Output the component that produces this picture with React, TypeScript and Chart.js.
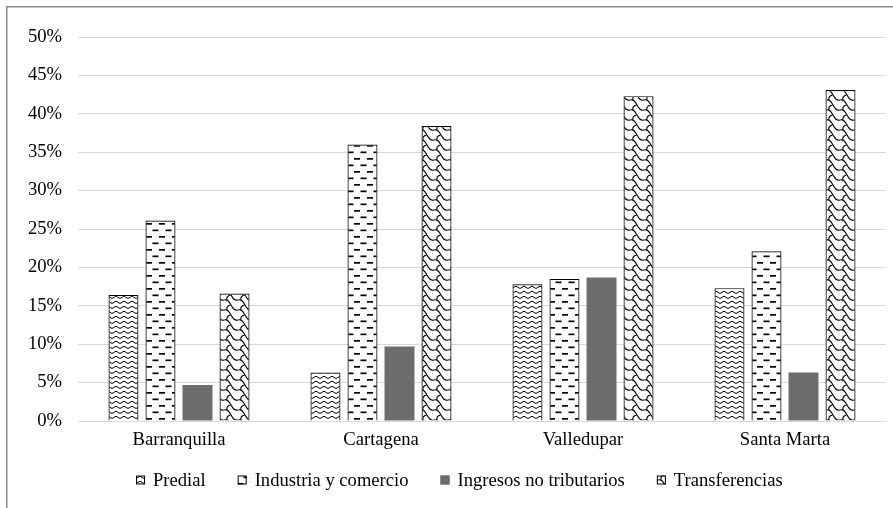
import React, { useEffect, useRef } from "react";
import { Chart, registerables } from "chart.js";

Chart.register(...registerables);

// Municipal revenue composition by city (share of total, %)
const categories = ["Barranquilla", "Cartagena", "Valledupar", "Santa Marta"];
const seriesNames = ["Predial", "Industria y comercio", "Ingresos no tributarios", "Transferencias"];
const predial = [16.4, 6.3, 17.8, 17.3];
const industriaComercio = [26.1, 36.0, 18.5, 22.1];
const ingresosNoTributarios = [4.7, 9.7, 18.7, 6.3];
const transferencias = [16.6, 38.4, 42.3, 43.1];
const yTickValues = [0, 5, 10, 15, 20, 25, 30, 35, 40, 45, 50];

const FONT = '"Liberation Serif", "Times New Roman", serif';
const FONT_SIZE = 18.6;
const W = 893;
const H = 508;

function makePattern(w: number, h: number, draw: (c: CanvasRenderingContext2D) => void) {
  const cv = document.createElement("canvas");
  cv.width = w;
  cv.height = h;
  const c = cv.getContext("2d")!;
  c.fillStyle = "#ffffff";
  c.fillRect(0, 0, w, h);
  c.strokeStyle = "#000000";
  c.fillStyle = "#000000";
  draw(c);
  return c.createPattern(cv, "repeat")!;
}

// zigzag rows
function zigzag() {
  return makePattern(8, 5, (c) => {
    c.lineWidth = 1;
    c.beginPath();
    c.moveTo(-0.5, 3.8);
    c.lineTo(4, 1.2);
    c.lineTo(8.5, 3.8);
    c.stroke();
  });
}

// staggered horizontal dashes
function dashes() {
  return makePattern(13, 13, (c) => {
    c.fillRect(3, 2, 6, 1.7);
    c.fillRect(9.5, 8.5, 3.5, 1.7);
    c.fillRect(0, 8.5, 2.5, 1.7);
  });
}

// shingle: S-curved diagonal chains with hooks
function shingle() {
  return makePattern(14, 10, (c) => {
    c.lineWidth = 1.1;
    const s = (dx: number, dy: number) => {
      c.beginPath();
      c.moveTo(dx, dy);
      c.bezierCurveTo(dx + 7, dy - 2.5, dx + 7, dy + 12.5, dx + 14, dy + 10);
      c.stroke();
      c.beginPath();
      c.moveTo(dx + 6.5, dy + 5);
      c.quadraticCurveTo(dx + 2, dy + 6, dx + 3, dy + 10.5);
      c.stroke();
    };
    for (const dx of [-14, 0, 14]) for (const dy of [-10, 0, 10]) s(dx, dy);
  });
}

export default function App() {
  const ref = useRef<HTMLCanvasElement | null>(null);

  useEffect(() => {
    if (!ref.current) return;
    const fills = [zigzag(), dashes(), "#6d6d6d", shingle()];
    const values = [predial, industriaComercio, ingresosNoTributarios, transferencias];

    const frameAndLegend = {
      id: "frameAndLegend",
      beforeDraw(chart: any) {
        const ctx = chart.ctx;
        ctx.save();
        ctx.fillStyle = "#ffffff";
        ctx.fillRect(0, 0, W, H);
        ctx.strokeStyle = "#8a8a8a";
        ctx.lineWidth = 1.5;
        ctx.beginPath();
        ctx.moveTo(6.75, H);
        ctx.lineTo(6.75, 6.75);
        ctx.lineTo(W, 6.75);
        ctx.stroke();
        ctx.restore();
      },
      afterDraw(chart: any) {
        const ctx = chart.ctx;
        ctx.save();
        ctx.font = `${FONT_SIZE}px ${FONT}`;
        ctx.textBaseline = "middle";
        const box = 9;
        const gapText = 8;
        const spacing = 32;
        const y = 480;
        let x = 136;
        chart.data.datasets.forEach((ds: any) => {
          ctx.fillStyle = ds.backgroundColor;
          ctx.fillRect(x, y - box / 2, box, box);
          ctx.strokeStyle = ds.borderWidth ? "#000000" : ds.backgroundColor;
          ctx.lineWidth = 1;
          ctx.strokeRect(x + 0.5, y - box / 2 + 0.5, box - 1, box - 1);
          ctx.fillStyle = "#000000";
          ctx.fillText(ds.label, x + box + gapText, y + 1);
          x += box + gapText + ctx.measureText(ds.label).width + spacing;
        });
        ctx.restore();
      },
    };

    const chart = new Chart(ref.current, {
      type: "bar",
      data: {
        labels: categories,
        datasets: seriesNames.map((name, i) => ({
          label: name,
          data: values[i],
          backgroundColor: fills[i] as any,
          borderColor: i === 2 ? "#6d6d6d" : "#000000",
          borderWidth: i === 2 ? 0 : 1.2,
          categoryPercentage: 0.733,
          barPercentage: 0.81,
        })),
      },
      options: {
        animation: false,
        responsive: false,
        devicePixelRatio: 1,
        layout: { padding: { top: 37, right: 7, left: 0, bottom: 0 } },
        plugins: { legend: { display: false }, tooltip: { enabled: false } },
        scales: {
          x: {
            grid: { display: false, drawTicks: false },
            border: { display: true, color: "#d9d9d9", width: 1 },
            ticks: { color: "#000000", font: { family: FONT, size: FONT_SIZE }, padding: 8 },
            afterFit: (s: any) => {
              s.height = 87;
            },
          },
          y: {
            min: 0,
            max: 50,
            afterBuildTicks: (s: any) => {
              s.ticks = yTickValues.map((v) => ({ value: v }));
            },
            grid: { color: "#d9d9d9", lineWidth: 1, drawTicks: false },
            border: { display: false },
            ticks: {
              color: "#000000",
              font: { family: FONT, size: FONT_SIZE },
              padding: 16,
              callback: (v: any) => `${v}%`,
            },
            afterFit: (s: any) => {
              s.width = 78;
            },
          },
        },
      },
      plugins: [frameAndLegend],
    });
    return () => chart.destroy();
  }, []);

  return (
    <div style={{ position: "absolute", left: 0, top: 0, width: W, height: H, background: "#fff" }}>
      <canvas ref={ref} width={W} height={H} style={{ display: "block", width: W, height: H }} />
    </div>
  );
}
